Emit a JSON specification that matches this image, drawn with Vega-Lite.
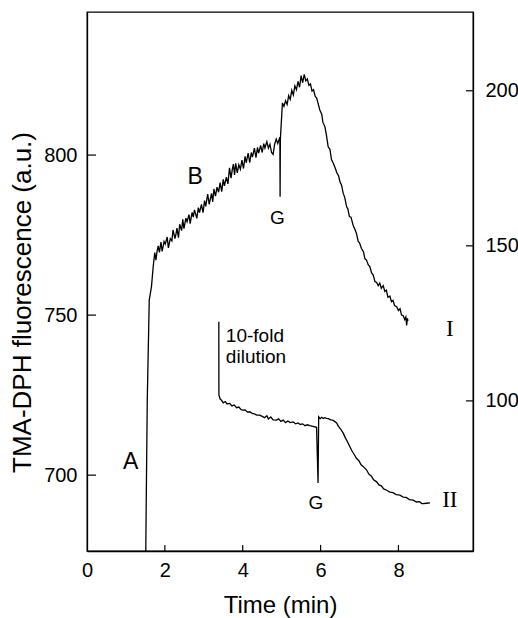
{
  "$schema": "https://vega.github.io/schema/vega-lite/v6.json",
  "width": 386,
  "height": 539,
  "autosize": "none",
  "padding": {"left": 87, "top": 12, "right": 45, "bottom": 67},
  "background": "white",
  "config": {
    "font": "Liberation Sans",
    "view": {"stroke": "black", "strokeWidth": 1.3},
    "axis": {"grid": false, "ticks": false, "domainColor": "black", "domainWidth": 1.3, "labelColor": "black", "titleColor": "black", "labelFont": "Liberation Sans", "titleFont": "Liberation Sans", "titleFontWeight": "normal", "labelFontSize": 20, "titleFontSize": 24}
  },
  "datasets": {
    "c1": [
      {"t":1.51,"v":676.3},{"t":1.522,"v":692.2},{"t":1.548,"v":723.4},{"t":1.599,"v":754.7},{"t":1.656,"v":758.9},
      {"t":1.70,"v":765.1},{"t":1.74,"v":769.5},{"t":1.77,"v":767.2},{"t":1.80,"v":770.0},{"t":1.83,"v":771.6},{"t":1.86,"v":769.6},{"t":1.90,"v":772.8},{"t":1.93,"v":769.9},{"t":1.98,"v":773.0},{"t":2.01,"v":772.2},{"t":2.06,"v":774.4},{"t":2.09,"v":771.0},{"t":2.14,"v":773.9},{"t":2.18,"v":773.2},{"t":2.21,"v":776.6},{"t":2.26,"v":773.9},{"t":2.29,"v":775.6},{"t":2.31,"v":777.2},{"t":2.35,"v":774.2},{"t":2.38,"v":778.4},{"t":2.43,"v":776.4},{"t":2.46,"v":779.9},{"t":2.49,"v":777.0},{"t":2.54,"v":780.3},{"t":2.57,"v":779.2},{"t":2.62,"v":781.4},{"t":2.65,"v":778.6},{"t":2.70,"v":782.1},{"t":2.73,"v":780.6},{"t":2.76,"v":782.9},{"t":2.82,"v":780.2},{"t":2.86,"v":783.6},{"t":2.89,"v":782.0},{"t":2.94,"v":784.6},{"t":2.98,"v":782.0},{"t":3.02,"v":785.8},{"t":3.05,"v":784.0},{"t":3.10,"v":787.8},{"t":3.14,"v":784.6},{"t":3.17,"v":786.4},{"t":3.20,"v":788.0},{"t":3.23,"v":785.4},{"t":3.26,"v":789.4},{"t":3.30,"v":787.2},{"t":3.34,"v":790.0},{"t":3.38,"v":788.4},{"t":3.42,"v":791.4},{"t":3.46,"v":788.6},{"t":3.50,"v":792.4},{"t":3.53,"v":790.4},{"t":3.58,"v":793.1},{"t":3.62,"v":791.0},{"t":3.66,"v":796.0},{"t":3.70,"v":792.8},{"t":3.73,"v":795.4},{"t":3.76,"v":797.2},{"t":3.79,"v":793.8},{"t":3.82,"v":797.4},{"t":3.86,"v":794.4},{"t":3.90,"v":797.0},{"t":3.94,"v":795.6},{"t":3.98,"v":798.4},{"t":4.02,"v":795.8},{"t":4.06,"v":799.6},{"t":4.09,"v":797.6},{"t":4.14,"v":800.6},{"t":4.18,"v":797.6},{"t":4.22,"v":800.8},{"t":4.25,"v":799.4},{"t":4.30,"v":802.2},{"t":4.34,"v":799.2},{"t":4.38,"v":802.4},{"t":4.41,"v":800.6},{"t":4.46,"v":803.0},{"t":4.50,"v":800.8},{"t":4.54,"v":803.6},{"t":4.57,"v":802.2},{"t":4.62,"v":804.2},{"t":4.66,"v":802.2},{"t":4.70,"v":803.4},{"t":4.74,"v":800.8},{"t":4.78,"v":800.2},{"t":4.82,"v":803.4},{"t":4.86,"v":805.0},{"t":4.90,"v":803.6},{"t":4.954,"v":805.6},
      {"t":4.96,"v":787.0},{"t":4.967,"v":805.0},
      {"t":5.02,"v":816.3},{"t":5.06,"v":815.2},{"t":5.10,"v":817.0},{"t":5.14,"v":815.8},{"t":5.18,"v":818.6},{"t":5.22,"v":817.4},{"t":5.26,"v":820.2},{"t":5.30,"v":818.8},{"t":5.34,"v":821.6},{"t":5.38,"v":820.4},{"t":5.42,"v":823.0},{"t":5.46,"v":821.2},{"t":5.50,"v":824.8},{"t":5.54,"v":822.6},{"t":5.58,"v":825.2},{"t":5.62,"v":823.2},{"t":5.66,"v":823.8},{"t":5.70,"v":821.8},{"t":5.74,"v":822.2},{"t":5.78,"v":820.0},{"t":5.82,"v":820.4},{"t":5.86,"v":818.4},{"t":5.90,"v":817.8},
      {"t":5.98,"v":814.1},{"t":6.03,"v":812.8},{"t":6.06,"v":810.2},{"t":6.11,"v":808.9},{"t":6.15,"v":806.2},{"t":6.195,"v":802.6},{"t":6.24,"v":801.8},{"t":6.28,"v":798.6},{"t":6.324,"v":797.5},{"t":6.38,"v":795.8},{"t":6.42,"v":794.4},{"t":6.46,"v":793.6},{"t":6.50,"v":791.6},{"t":6.54,"v":790.6},{"t":6.58,"v":788.1},{"t":6.62,"v":786.8},{"t":6.668,"v":783.9},{"t":6.70,"v":783.2},{"t":6.74,"v":780.8},{"t":6.78,"v":780.6},{"t":6.838,"v":778.0},{"t":6.88,"v":776.8},{"t":6.92,"v":775.6},{"t":6.967,"v":773.0},{"t":7.00,"v":772.6},{"t":7.05,"v":770.8},{"t":7.10,"v":769.8},{"t":7.139,"v":767.6},{"t":7.18,"v":767.2},{"t":7.22,"v":765.8},{"t":7.267,"v":765.1},{"t":7.31,"v":763.2},{"t":7.35,"v":762.6},{"t":7.396,"v":760.5},{"t":7.44,"v":760.2},{"t":7.48,"v":759.2},{"t":7.52,"v":760.0},{"t":7.56,"v":758.4},{"t":7.609,"v":759.2},{"t":7.65,"v":757.4},{"t":7.69,"v":757.8},{"t":7.73,"v":755.6},{"t":7.781,"v":755.9},{"t":7.82,"v":754.2},{"t":7.86,"v":754.6},{"t":7.90,"v":753.0},{"t":7.954,"v":752.6},{"t":8.00,"v":751.4},{"t":8.04,"v":752.0},{"t":8.08,"v":750.0},{"t":8.123,"v":749.8},{"t":8.16,"v":748.6},{"t":8.19,"v":749.4},{"t":8.211,"v":746.8},{"t":8.23,"v":749.0},{"t":8.244,"v":748.2}
    ],
    "c2": [
      {"t":3.386,"v":125.5},{"t":3.388,"v":101.9},{"t":3.42,"v":100.6},{"t":3.455,"v":100.2},{"t":3.50,"v":99.4},{"t":3.55,"v":99.8},{"t":3.60,"v":99.0},{"t":3.668,"v":99.2},{"t":3.72,"v":98.4},{"t":3.78,"v":98.7},{"t":3.84,"v":97.8},{"t":3.90,"v":98.0},{"t":3.96,"v":97.2},{"t":4.01,"v":97.0},{"t":4.06,"v":97.1},{"t":4.12,"v":96.4},{"t":4.18,"v":96.5},{"t":4.24,"v":96.0},{"t":4.30,"v":95.8},{"t":4.36,"v":95.4},{"t":4.44,"v":95.4},{"t":4.50,"v":95.0},{"t":4.56,"v":94.6},{"t":4.62,"v":95.2},{"t":4.66,"v":94.2},{"t":4.72,"v":94.8},{"t":4.78,"v":93.9},{"t":4.869,"v":93.8},{"t":4.92,"v":94.2},{"t":4.98,"v":93.4},{"t":5.04,"v":93.8},{"t":5.10,"v":93.0},{"t":5.16,"v":93.5},{"t":5.22,"v":93.0},{"t":5.296,"v":93.2},{"t":5.36,"v":92.6},{"t":5.42,"v":92.9},{"t":5.48,"v":92.4},{"t":5.54,"v":92.6},{"t":5.60,"v":92.0},{"t":5.66,"v":92.3},{"t":5.725,"v":92.0},{"t":5.80,"v":91.8},{"t":5.897,"v":91.5},
      {"t":5.935,"v":73.5},{"t":5.951,"v":94.9},
      {"t":5.99,"v":94.3},{"t":6.03,"v":94.7},{"t":6.067,"v":94.3},{"t":6.11,"v":94.6},{"t":6.154,"v":94.4},{"t":6.20,"v":94.3},{"t":6.26,"v":93.9},{"t":6.31,"v":93.8},{"t":6.36,"v":93.4},{"t":6.411,"v":92.9},{"t":6.46,"v":91.8},{"t":6.52,"v":90.8},{"t":6.581,"v":89.6},{"t":6.64,"v":88.0},{"t":6.70,"v":86.6},{"t":6.753,"v":85.2},{"t":6.80,"v":84.0},{"t":6.86,"v":82.8},{"t":6.925,"v":81.4},{"t":6.98,"v":80.8},{"t":7.04,"v":79.4},{"t":7.10,"v":78.8},{"t":7.183,"v":77.7},{"t":7.24,"v":76.4},{"t":7.30,"v":75.8},{"t":7.36,"v":74.6},{"t":7.44,"v":73.9},{"t":7.50,"v":72.9},{"t":7.56,"v":72.6},{"t":7.62,"v":71.6},{"t":7.697,"v":71.2},{"t":7.78,"v":70.6},{"t":7.86,"v":70.4},{"t":7.94,"v":69.8},{"t":8.039,"v":69.6},{"t":8.12,"v":69.0},{"t":8.20,"v":68.9},{"t":8.28,"v":68.2},{"t":8.38,"v":68.0},{"t":8.46,"v":67.4},{"t":8.54,"v":67.5},{"t":8.60,"v":66.9},{"t":8.638,"v":66.9},{"t":8.72,"v":67.0},{"t":8.81,"v":67.1}
    ],
    "big": [{"t":1.123,"v":704.1,"label":"A"},{"t":2.78,"v":793.3,"label":"B"}],
    "g": [{"t":4.89,"v":780.2,"label":"G"},{"t":5.88,"v":691.4,"label":"G"}],
    "dil": [{"t":3.567,"v":741.7,"label":"10-fold"},{"t":3.567,"v":735.0,"label":"dilution"}],
    "roman": [{"t":9.32,"v":745.6,"label":"I"},{"t":9.32,"v":692.2,"label":"II"}],
    "xticks": [{"t":2},{"t":4},{"t":6},{"t":8}],
    "lticks": [{"v":700},{"v":750},{"v":800}],
    "rticks": [{"v":100},{"v":150},{"v":200}]
  },
  "resolve": {"scale": {"y": "independent"}},
  "layer": [
    {
      "layer": [
        {
          "data": {"name": "c1"},
          "mark": {"type": "line", "color": "black", "strokeWidth": 1.3, "clip": true},
          "encoding": {
            "x": {"field": "t", "type": "quantitative", "scale": {"domain": [0, 9.915], "nice": false, "zero": false},
                  "axis": {"values": [0,2,4,6,8], "labelPadding": 9, "title": "Time (min)", "titleY": 54, "titleBaseline": "middle", "labelFlush": false}},
            "y": {"field": "v", "type": "quantitative", "scale": {"domain": [676.3, 844.7], "nice": false, "zero": false},
                  "axis": {"orient": "left", "values": [700,750,800], "labelPadding": 10, "title": "TMA-DPH fluorescence (a.u.)", "titleFontSize": 26, "titleAngle": 270, "titleX": -65, "titleY": 290, "titleAlign": "center", "titleBaseline": "middle", "labelFlush": false}}
          }
        },
        {
          "data": {"name": "xticks"},
          "mark": {"type": "rule", "color": "black", "strokeWidth": 1.2},
          "encoding": {"x": {"field": "t", "type": "quantitative"}, "y": {"datum": 676.3}, "y2": {"datum": 678.2}}
        },
        {
          "data": {"name": "lticks"},
          "mark": {"type": "rule", "color": "black", "strokeWidth": 1.2},
          "encoding": {"y": {"field": "v", "type": "quantitative"}, "x": {"datum": 0}, "x2": {"datum": 0.231}}
        },
        {
          "data": {"name": "big"},
          "mark": {"type": "text", "fontSize": 23, "align": "center", "baseline": "middle", "color": "black"},
          "encoding": {"x": {"field": "t", "type": "quantitative"}, "y": {"field": "v", "type": "quantitative"}, "text": {"field": "label"}}
        },
        {
          "data": {"name": "g"},
          "mark": {"type": "text", "fontSize": 19, "align": "center", "baseline": "middle", "color": "black"},
          "encoding": {"x": {"field": "t", "type": "quantitative"}, "y": {"field": "v", "type": "quantitative"}, "text": {"field": "label"}}
        },
        {
          "data": {"name": "dil"},
          "mark": {"type": "text", "fontSize": 19, "align": "left", "baseline": "alphabetic", "color": "black"},
          "encoding": {"x": {"field": "t", "type": "quantitative"}, "y": {"field": "v", "type": "quantitative"}, "text": {"field": "label"}}
        },
        {
          "data": {"name": "roman"},
          "mark": {"type": "text", "fontSize": 23, "font": "Liberation Serif", "align": "center", "baseline": "middle", "color": "black"},
          "encoding": {"x": {"field": "t", "type": "quantitative"}, "y": {"field": "v", "type": "quantitative"}, "text": {"field": "label"}}
        }
      ]
    },
    {
      "layer": [
        {
          "data": {"name": "c2"},
          "mark": {"type": "line", "color": "black", "strokeWidth": 1.3, "clip": true},
          "encoding": {
            "x": {"field": "t", "type": "quantitative"},
            "y": {"field": "v", "type": "quantitative", "scale": {"domain": [51.6, 225.4], "nice": false, "zero": false},
                  "axis": {"orient": "right", "values": [100,150,200], "labelPadding": 12, "labelAlign": "left", "title": null, "labelFlush": false}}
          }
        },
        {
          "data": {"name": "rticks"},
          "mark": {"type": "rule", "color": "black", "strokeWidth": 1.2},
          "encoding": {"y": {"field": "v", "type": "quantitative"}, "x": {"datum": 9.735}, "x2": {"datum": 9.915}}
        }
      ]
    }
  ]
}
